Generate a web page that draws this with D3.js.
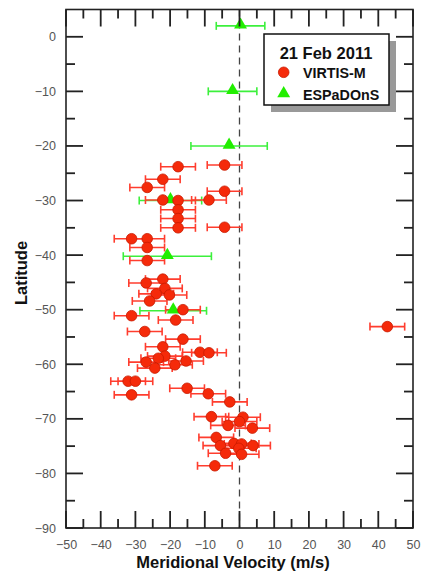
<!DOCTYPE html>
<html>
<head>
<meta charset="utf-8">
<script src="https://cdn.jsdelivr.net/npm/d3@7"></script>
<style>
  body { margin: 0; background: #fff; }
  text { font-family: Arial, "Liberation Sans", sans-serif; }
</style>
</head>
<body>
<div id="chart"></div>
<script>
// VIRTIS-M measurements (velocity m/s, latitude deg, error m/s)
const virtisV = [-17.7, -4.3, -22.1, -26.6, -4.3, -22.1, -17.7, -8.8, -17.7, -17.7,
  -17.7, -4.3, -31.1, -26.6, -26.6, -26.6, -22.1, -26.9, -21.5, -24.0,
  -20.2, -25.9, -16.3, -31.1, -18.4, 42.6, -27.3, -16.3, -22.1, -11.4,
  -8.8, -21.5, -23.4, -15.4, -26.9, -18.6, -24.4, -32.1, -30.0, -31.1,
  -15.1, -9.0, -2.8, -8.1, 1.0, 0.0, -3.3, 3.7, -6.7, -1.6,
  0.6, 3.9, -5.5, -0.2, -4.0, 0.6, -7.1];
const virtisLat = [-23.8, -23.5, -26.1, -27.6, -28.3, -29.9, -30.0, -29.9, -31.7, -33.3,
  -35.0, -34.9, -37.0, -37.0, -38.6, -41.0, -44.4, -45.1, -46.1, -47.1,
  -47.3, -48.4, -50.0, -51.1, -51.9, -53.1, -54.0, -55.4, -56.8, -57.8,
  -57.9, -58.5, -58.9, -59.4, -59.6, -60.1, -60.7, -63.1, -63.1, -65.6,
  -64.4, -65.4, -66.9, -69.6, -69.7, -70.5, -71.2, -71.7, -73.4, -74.5,
  -74.6, -74.9, -74.9, -75.4, -76.3, -76.5, -78.6];
const virtisErr = virtisV.map(() => 5);

// ESPaDOnS measurements
const espaV = [0.3, -2.0, -3.0, -19.9, -20.8, -19.1];
const espaLat = [2, -10, -20, -30, -40.2, -50.2];
const espaErr = [7, 7, 11, 9, 12.7, 9.6];

const xTicks = [-50, -40, -30, -20, -10, 0, 10, 20, 30, 40, 50];
const yTicks = [0, -10, -20, -30, -40, -50, -60, -70, -80, -90];

const W = 421, H = 571;
const margin = {top: 9.5, right: 8, bottom: 43, left: 66};
const width = W - margin.left - margin.right,
      height = H - margin.top - margin.bottom;

const svg = d3.select("#chart").append("svg")
    .attr("width", W)
    .attr("height", H);

const g = svg.append("g")
    .attr("transform", `translate(${margin.left},${margin.top})`);

const x = d3.scaleLinear().domain([-50, 50]).range([0, width]);
const y = d3.scaleLinear().domain([-90, 5]).range([height, 0]);

const tickColor = "#222";
const majorLen = 17, minorLen = 9, tw = 1.8;

// tick labels via axes (lines hidden)
const xAxis = g.append("g")
    .attr("transform", `translate(0,${height})`)
    .call(d3.axisBottom(x).tickValues(xTicks).tickSize(0).tickPadding(12));
const yAxis = g.append("g")
    .call(d3.axisLeft(y).tickValues(yTicks).tickSize(0).tickPadding(10));
[xAxis, yAxis].forEach(a => {
  a.select(".domain").remove();
  a.selectAll("text").attr("font-size", 12.5).attr("fill", "#555")
    .attr("font-family", "Arial, 'Liberation Sans', sans-serif");
});

// dashed zero line
g.append("line")
    .attr("x1", x(0)).attr("x2", x(0))
    .attr("y1", 0).attr("y2", height)
    .attr("stroke", "#444").attr("stroke-width", 1.3)
    .attr("stroke-dasharray", "7,5");

// error bars helper
function errBars(vals, lats, errs, color) {
  const eg = g.append("g").attr("stroke", color).attr("stroke-width", 1.6);
  vals.forEach((v, i) => {
    const yy = y(lats[i]);
    eg.append("line").attr("x1", x(v - errs[i])).attr("x2", x(v + errs[i])).attr("y1", yy).attr("y2", yy);
    eg.append("line").attr("x1", x(v - errs[i])).attr("x2", x(v - errs[i])).attr("y1", yy - 4).attr("y2", yy + 4);
    eg.append("line").attr("x1", x(v + errs[i])).attr("x2", x(v + errs[i])).attr("y1", yy - 4).attr("y2", yy + 4);
  });
}

const red = "#f52a0a", redEdge = "#c81a00", redBar = "#ff3d2e";
const green = "#22ee00", greenBar = "#3cf03c";
const tri = d3.symbol().type(d3.symbolTriangle).size(72);

errBars(espaV, espaLat, espaErr, greenBar);
errBars(virtisV, virtisLat, virtisErr, redBar);

g.append("g").selectAll("path")
  .data(espaV)
  .join("path")
    .attr("d", tri)
    .attr("transform", (d, i) => `translate(${x(d)},${y(espaLat[i]) - 1})`)
    .attr("fill", green);

g.append("g").selectAll("circle")
  .data(virtisV)
  .join("circle")
    .attr("cx", d => x(d))
    .attr("cy", (d, i) => y(virtisLat[i]))
    .attr("r", 5.3)
    .attr("fill", red)
    .attr("stroke", redEdge)
    .attr("stroke-width", 0.8);

// frame
g.append("rect")
    .attr("width", width).attr("height", height)
    .attr("fill", "none").attr("stroke", tickColor).attr("stroke-width", 1.6);

// legend
const lg = svg.append("g").attr("transform", "translate(264,34)");
lg.append("rect").attr("x", 7).attr("y", 7).attr("width", 125).attr("height", 71).attr("fill", "#999");
lg.append("rect").attr("width", 125).attr("height", 71).attr("fill", "#fff")
  .attr("stroke", "#111").attr("stroke-width", 1.5);
lg.append("text").attr("x", 62).attr("y", 24.5).attr("text-anchor", "middle")
  .attr("font-size", 16.5).attr("font-weight", "bold").attr("fill", "#111").text("21 Feb 2011");
lg.append("circle").attr("cx", 19.7).attr("cy", 38.3).attr("r", 5.3)
  .attr("fill", red).attr("stroke", redEdge).attr("stroke-width", 0.8);
lg.append("text").attr("x", 39).attr("y", 43.5).attr("font-size", 14.3)
  .attr("font-weight", "bold").attr("fill", "#111").text("VIRTIS-M");
lg.append("path").attr("d", tri).attr("transform", "translate(19.7,59.5)").attr("fill", green);
lg.append("text").attr("x", 39).attr("y", 65.5).attr("font-size", 14.3)
  .attr("font-weight", "bold").attr("fill", "#111").text("ESPaDOnS");

// axis titles
svg.append("text")
    .attr("x", 233).attr("y", 568)
    .attr("text-anchor", "middle").attr("font-size", 16.5).attr("font-weight", "bold")
    .attr("fill", "#111").text("Meridional Velocity (m/s)");
svg.append("text")
    .attr("transform", "translate(27,273) rotate(-90)")
    .attr("text-anchor", "middle").attr("font-size", 16.5).attr("font-weight", "bold")
    .attr("fill", "#111").text("Latitude");

// inward ticks on all four sides as thin filled rects, placed by the scales
const xMinor = d3.range(-45, 50, 10);
const yMinor = d3.range(-85, 5, 10);
const tg = svg.append("g")
    .attr("transform", `translate(${margin.left},${margin.top})`)
    .attr("fill", tickColor);
function vTicks(vals, len) {
  vals.forEach(v => {
    tg.append("rect").attr("x", x(v) - tw / 2).attr("y", height - len).attr("width", tw).attr("height", len);
    tg.append("rect").attr("x", x(v) - tw / 2).attr("y", 0).attr("width", tw).attr("height", len);
  });
}
function hTicks(vals, len) {
  vals.forEach(v => {
    tg.append("rect").attr("x", 0).attr("y", y(v) - tw / 2).attr("width", len).attr("height", tw);
    tg.append("rect").attr("x", width - len).attr("y", y(v) - tw / 2).attr("width", len).attr("height", tw);
  });
}
vTicks(xTicks, majorLen);
vTicks(xMinor, minorLen);
hTicks(yTicks, majorLen);
hTicks(yMinor, minorLen);
</script>
</body>
</html>
